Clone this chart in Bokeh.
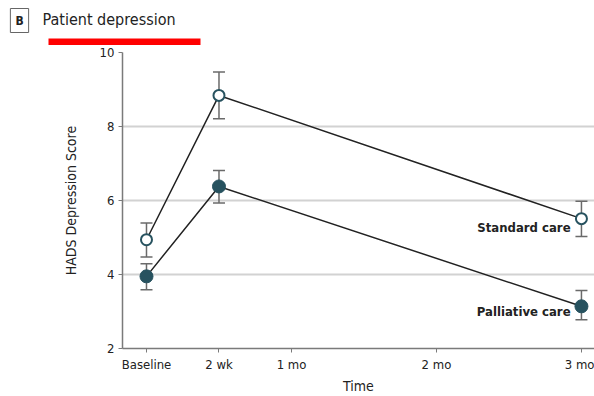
from bokeh.plotting import figure
from bokeh.layouts import column
from bokeh.models import Range1d, FixedTicker, Label, Whisker, ColumnDataSource, Column
from bokeh.core.properties import value
from bokeh.embed import file_html
from bokeh.resources import INLINE

# Time points (weeks from baseline) and their labels
time_weeks = [0, 2, 12]
tick_weeks = [0, 2, 4, 8, 12]
tick_labels = ["Baseline", "2 wk", "1 mo", "2 mo", "3 mo"]

# HADS depression score: means and 95% CI bounds
standard_mean = [4.94, 8.84, 5.51]
standard_lo = [4.47, 8.21, 5.03]
standard_hi = [5.39, 9.47, 5.98]

palliative_mean = [3.95, 6.38, 3.14]
palliative_lo = [3.59, 5.93, 2.78]
palliative_hi = [4.29, 6.81, 3.57]

FONT = "'DejaVu Sans Condensed', 'Liberation Sans Narrow', Lato, sans-serif"
TEAL = "#27525f"
INK = "#222222"
AXIS = "#7a7a7a"

W = 594
HEAD_H = 45

# ---- heading strip: panel letter, title and the red bar (pixel coordinates, y down)
head = figure(width=W, height=HEAD_H, output_backend="svg", toolbar_location=None,
              x_range=Range1d(0, W), y_range=Range1d(HEAD_H, 0),
              min_border=0, outline_line_color=None)
head.axis.visible = False
head.grid.visible = False
head.add_layout(Label(x=19, y=20, text="B", text_align="center", text_baseline="middle",
                      text_font=FONT, text_font_size="12px", text_font_style="bold",
                      text_color=INK, border_line_color="#666666", border_line_width=1,
                      padding=5, background_fill_color="white"))
head.add_layout(Label(x=42, y=19, text="Patient depression", text_align="left",
                      text_baseline="middle", text_font=FONT, text_font_size="16px",
                      text_color=INK))
head.quad(left=[48], right=[200], top=[38], bottom=[HEAD_H], fill_color="#ff0000",
          line_color=None)

# ---- main chart
p = figure(width=W, height=396 - HEAD_H, output_backend="svg", toolbar_location=None,
           x_range=Range1d(-0.662, 12.36), y_range=Range1d(2, 10),
           min_border_left=122, min_border_right=0, min_border_top=7, min_border_bottom=48)
p.outline_line_color = None

p.xaxis.ticker = FixedTicker(ticks=tick_weeks)
p.xaxis.major_label_overrides = {t: l for t, l in zip(tick_weeks, tick_labels)}
p.yaxis.ticker = FixedTicker(ticks=[2, 4, 6, 8, 10])
for ax in (p.xaxis, p.yaxis):
    ax.axis_line_color = AXIS
    ax.axis_line_width = 1.5
    ax.major_tick_line_color = AXIS
    ax.major_tick_out = 4
    ax.major_tick_in = 0
    ax.minor_tick_line_color = None
    ax.major_label_text_font = FONT
    ax.major_label_text_font_size = "13px"
    ax.major_label_text_color = INK
    ax.axis_label_text_font = FONT
    ax.axis_label_text_font_size = "14px"
    ax.axis_label_text_font_style = "normal"
    ax.axis_label_text_color = INK
p.xaxis.major_label_standoff = 4
p.yaxis.major_label_standoff = 4
p.yaxis.axis_label = "HADS Depression Score"
p.yaxis.axis_label_standoff = 18
p.xaxis.axis_label = "Time"
p.xaxis.axis_label_standoff = 3

p.xgrid.grid_line_color = None
p.ygrid.grid_line_color = "#d2d2d2"
p.ygrid.grid_line_width = 2
p.ygrid.ticker = FixedTicker(ticks=[4, 6, 8, 10])

src_s = ColumnDataSource(dict(x=time_weeks, y=standard_mean, lo=standard_lo, hi=standard_hi))
src_p = ColumnDataSource(dict(x=time_weeks, y=palliative_mean, lo=palliative_lo, hi=palliative_hi))

for src in (src_s, src_p):
    w = Whisker(source=src, base="x", lower="lo", upper="hi", dimension="height",
                line_color="#6a6a6a", line_width=1.5)
    for hd in (w.lower_head, w.upper_head):
        hd.size = 12
        hd.line_color = "#6a6a6a"
        hd.line_width = 1.5
    p.add_layout(w)
    p.line("x", "y", source=src, line_color=INK, line_width=1.5)

p.scatter("x", "y", source=src_s, size=11, fill_color="white", line_color=TEAL, line_width=2)
p.scatter("x", "y", source=src_p, size=13, fill_color=TEAL, line_color=TEAL, line_width=1)

p.text(x=[11.70, 11.70], y=[5.27, 3.0], text=["Standard care", "Palliative care"],
       text_align="right", text_baseline="middle", text_font=value(FONT),
       text_font_size="13px", text_font_style="bold", text_color=INK)

# nest each figure in its own column so their frames are laid out independently
layout = column(Column(children=[head]), Column(children=[p]), spacing=0)
open("out.html", "w").write(file_html(layout, INLINE))
